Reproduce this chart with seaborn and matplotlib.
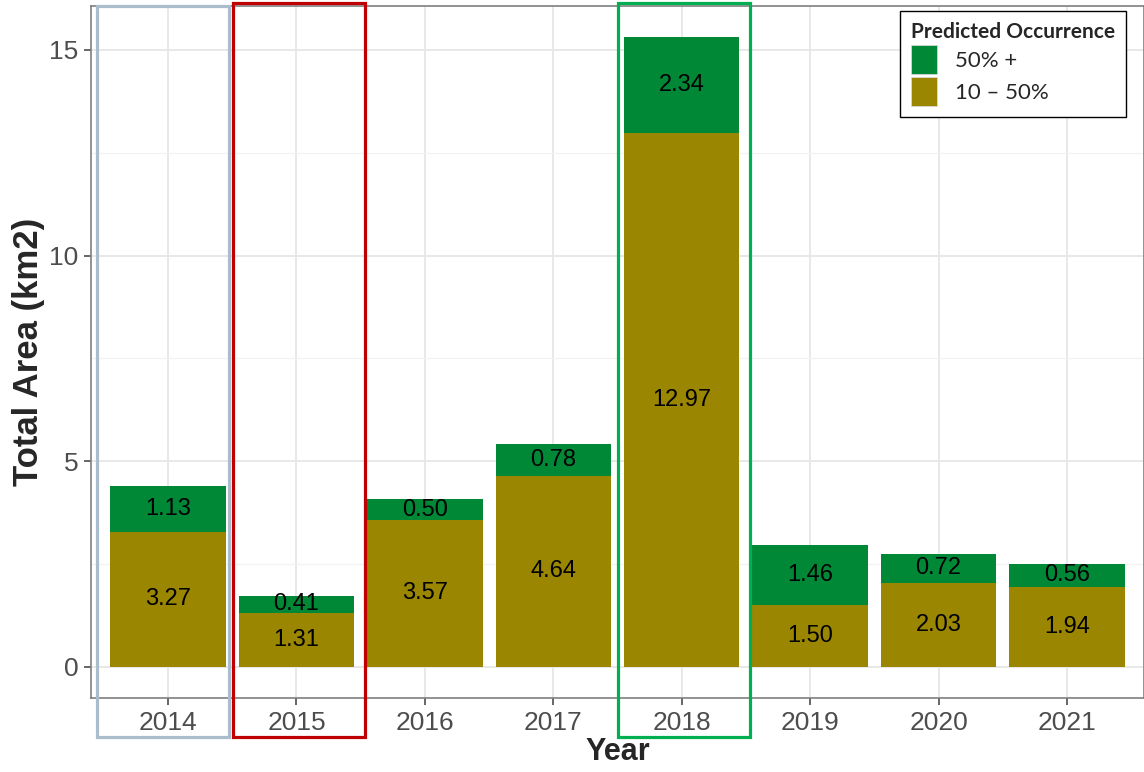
import numpy as np
import pandas as pd
import matplotlib
matplotlib.use('Agg')
import matplotlib.pyplot as plt
import matplotlib.patches as mpatches
import matplotlib.transforms as mtransforms
from matplotlib.ticker import MultipleLocator
import seaborn as sns


# data
YEARS = ['2014', '2015', '2016', '2017', '2018', '2019', '2020', '2021']
AREA_10_50 = [3.27, 1.31, 3.57, 4.64, 12.97, 1.50, 2.03, 1.94]
AREA_50_PLUS = [1.13, 0.41, 0.50, 0.78, 2.34, 1.46, 0.72, 0.56]
LEGEND_LABELS = ['50% +', '10 – 50%']

# highlighted years: colour, left/right offset (category units), top (px)
HIGHLIGHTS = {
    '2014': ('#a9bdcc', -0.552, 0.474, 6),
    '2015': ('#c00000', -0.497, 0.536, 3),
    '2018': ('#00b050', -0.497, 0.528, 3),
}

COLOR_HIGH = '#008837'
COLOR_MID = '#9a8600'
TICK_GREY = '#4d4d4d'

df = pd.DataFrame({'year': YEARS, 'mid': AREA_10_50, 'high': AREA_50_PLUS})
df['total'] = df['mid'] + df['high']

sns.set_style('white')
plt.rcParams['font.family'] = ['Liberation Sans', 'DejaVu Sans']

fig = plt.figure(figsize=(11.44, 7.72), dpi=100)
ax = fig.add_axes([91 / 1144, 74 / 772, 1 - 91 / 1144, (698 - 6) / 772])

sns.barplot(data=df, x='year', y='total', color=COLOR_HIGH, width=0.9,
            saturation=1, linewidth=0, ax=ax, zorder=2)
sns.barplot(data=df, x='year', y='mid', color=COLOR_MID, width=0.9,
            saturation=1, linewidth=0, ax=ax, zorder=3)

for i, row in df.iterrows():
    ax.text(i, row['mid'] / 2, f"{row['mid']:.2f}", ha='center', va='center',
            fontsize=17, color='black', zorder=5)
    ax.text(i, row['mid'] + row['high'] / 2, f"{row['high']:.2f}",
            ha='center', va='center', fontsize=17, color='black', zorder=5)

ax.set_xlim(-0.6, len(YEARS) - 0.4)
ax.set_ylim(-0.765, 16.07)
ax.yaxis.set_major_locator(MultipleLocator(5))
ax.yaxis.set_minor_locator(MultipleLocator(2.5))

# grid (theme_bw look) -- after barplot, which switches the x grid off
ax.set_axisbelow(True)
ax.xaxis.grid(True, which='major', color='#e6e6e6', lw=1.3)
ax.yaxis.grid(True, which='major', color='#e6e6e6', lw=1.3)
ax.yaxis.grid(True, which='minor', color='#f2f2f2', lw=0.9)

ax.set_xlabel('Year', fontsize=22, fontweight='bold', labelpad=2)
ax.set_ylabel('Total Area (km2)', fontsize=25, fontweight='bold', labelpad=3)
ax.tick_params(axis='both', which='major', labelsize=19, colors=TICK_GREY,
               length=5, width=1.2, direction='out', pad=4, left=True, bottom=True)
ax.tick_params(axis='y', which='minor', left=False)
for s in ax.spines.values():
    s.set_visible(True)
    s.set_color('#7f7f7f')
    s.set_linewidth(1.2)

# legend
handles = [mpatches.Patch(facecolor=COLOR_HIGH, edgecolor='#dddddd', lw=0.5),
           mpatches.Patch(facecolor=COLOR_MID, edgecolor='#dddddd', lw=0.5)]
leg = ax.legend(handles, LEGEND_LABELS, title='Predicted Occurrence',
                loc='upper right', bbox_to_anchor=(1126 / 1144, 1 - 11 / 772),
                bbox_transform=fig.transFigure, borderaxespad=0,
                frameon=True, fancybox=False,
                prop={'family': 'Lato', 'size': 16},
                title_fontproperties={'family': 'Lato', 'weight': 'bold', 'size': 15},
                handlelength=1.2, handleheight=1.6, handletextpad=0.8,
                labelspacing=0.15, borderpad=0.5, alignment='left')
leg.get_frame().set_edgecolor('black')
leg.get_frame().set_linewidth(1.0)
leg.get_frame().set_alpha(1)

# highlight boxes: x in data units, y in figure units
trans = mtransforms.blended_transform_factory(ax.transData, fig.transFigure)
y0 = 1 - 737 / 772
for yr, (col, left, right, top_px) in HIGHLIGHTS.items():
    i = YEARS.index(yr)
    y1 = 1 - top_px / 772
    rect = mpatches.Rectangle((i + left, y0), right - left, y1 - y0,
                              transform=trans, fill=False, edgecolor=col,
                              lw=2.3, clip_on=False, zorder=10)
    fig.add_artist(rect)

fig.savefig('out.png', dpi=100)
